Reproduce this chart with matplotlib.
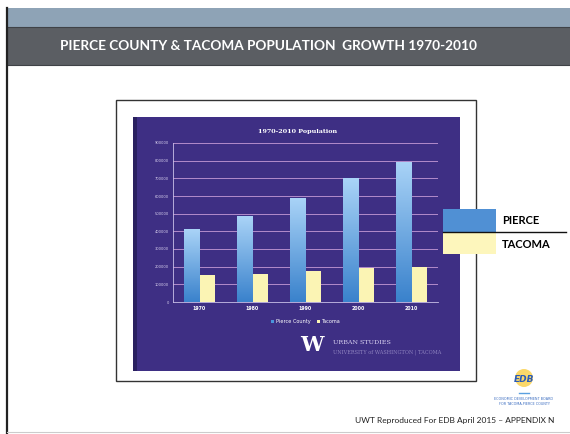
import numpy as np
import matplotlib
matplotlib.use('Agg')
from matplotlib import pyplot as plt
from matplotlib.patches import Rectangle, Circle

# データ
years = ['1970', '1980', '1990', '2000', '2010']
pierce = [411000, 486000, 586000, 701000, 795000]
tacoma = [154000, 158000, 177000, 194000, 198000]
yticks = [0, 100000, 200000, 300000, 400000, 500000, 600000, 700000, 800000, 900000]

W, H = 570, 434
fig = plt.figure(figsize=(W / 100, H / 100), dpi=100)
fig.patch.set_facecolor('white')

# スライド背景（ピクセル座標）
bg = fig.add_axes([0, 0, 1, 1])
bg.set_xlim(0, W)
bg.set_ylim(H, 0)
bg.axis('off')

bg.add_patch(Rectangle((7, 8), W - 7, 19, facecolor='#8ea3b6', edgecolor='none'))
bg.add_patch(Rectangle((7, 27), W - 7, 38, facecolor='#5b5e63', edgecolor='none'))
bg.plot([7, W], [27, 27], color='#3f4247', lw=0.8)
bg.plot([7, W], [65, 65], color='#3f4247', lw=0.8)
bg.plot([7, 7], [8, H], color='#222222', lw=1.6)
bg.plot([7, W], [432, 432], color='#cccccc', lw=0.8)
bg.text(269, 46, 'PIERCE COUNTY & TACOMA POPULATION  GROWTH 1970-2010',
        color='white', fontsize=9.8, fontweight='bold', family='Lato',
        ha='center', va='center')

# 枠とパネル
bg.add_patch(Rectangle((116, 100), 360, 281, facecolor='white', edgecolor='#333333', lw=1.0))
bg.add_patch(Rectangle((133, 117), 327, 254, facecolor='#3e2f84', edgecolor='none'))
bg.add_patch(Rectangle((133, 117), 4, 254, facecolor='#2a2060', edgecolor='none'))

bg.text(298, 132, '1970-2010 Population', color='white', fontsize=4.6, fontweight='bold',
        family='DejaVu Serif', ha='center', va='center')

# UWロゴ
bg.text(312, 345, 'W', color='white', fontsize=15, fontweight='bold', family='DejaVu Serif',
        ha='center', va='center')
bg.text(333, 342, 'URBAN STUDIES', color='#d8d0f0', fontsize=4.6, family='DejaVu Serif',
        ha='left', va='center')
bg.text(333, 352, 'UNIVERSITY of WASHINGTON | TACOMA', color='#8f84c0', fontsize=3.6,
        family='DejaVu Serif', ha='left', va='center')

# 右側の凡例
bg.add_patch(Rectangle((443, 209), 53, 23, facecolor='#5090d4', edgecolor='none', zorder=5))
bg.add_patch(Rectangle((443, 232), 53, 22, facecolor='#fdf6bc', edgecolor='none', zorder=5))
bg.plot([443, 566], [232, 232], color='#111111', lw=1.0, zorder=6)
bg.text(502, 221, 'PIERCE', fontsize=8, fontweight='bold', family='Lato', va='center', zorder=6)
bg.text(502, 244, 'TACOMA', fontsize=8, fontweight='bold', family='Lato', va='center', zorder=6)

# EDBロゴ
bg.add_patch(Circle((524, 378), 9, facecolor='#fbd86a', edgecolor='none'))
bg.text(524, 379, 'EDB', color='#2a5bb8', fontsize=6.5, fontweight='bold', style='italic',
        ha='center', va='center')
bg.plot([519, 529], [393, 393], color='#5aa0e0', lw=1)
bg.text(524, 399, 'ECONOMIC DEVELOPMENT BOARD', color='#3a6cc0', fontsize=2.4, ha='center', va='center')
bg.text(524, 404, 'FOR TACOMA-PIERCE COUNTY', color='#3a6cc0', fontsize=2.4, ha='center', va='center')

bg.text(554, 421, 'UWT Reproduced For EDB April 2015 \u2013 APPENDIX N', fontsize=6,
        family='Lato', ha='right', va='center', color='#222222')

# グラフ
ax = fig.add_axes([173 / W, 1 - 302 / H, 265 / W, 159 / H])
ax.set_facecolor('none')
x = np.arange(len(years))
w = 0.29
b1 = ax.bar(x - w / 2, pierce, w, color='#4a94dc', label='Pierce County', zorder=3)
b2 = ax.bar(x + w / 2, tacoma, w, color='#fbf4b4', label='Tacoma', zorder=3)

grad = np.linspace(0, 1, 100).reshape(-1, 1)
cmap = matplotlib.colors.LinearSegmentedColormap.from_list('pb', ['#3a82cc', '#a9d3f7'])
for r in b1:
    im = ax.imshow(grad, cmap=cmap, origin='lower', aspect='auto', zorder=4,
                   extent=[r.get_x(), r.get_x() + r.get_width(), 0, r.get_height()])
    im.set_clip_path(r)

ax.set_xlim(-0.5, 4.5)
ax.set_ylim(0, 900000)
ax.set_yticks(yticks)
ax.set_yticklabels([str(v) for v in yticks], fontsize=2.6, color='#d8d0ee')
ax.set_xticks(x)
ax.set_xticklabels(years, fontsize=3.4, color='white', fontweight='bold')
ax.tick_params(length=0, pad=3)
ax.grid(axis='y', color='#c49ad6', lw=0.6, zorder=1)
for s in ['top', 'right']:
    ax.spines[s].set_visible(False)
ax.spines['left'].set_color('#c9c0e8')
ax.spines['bottom'].set_color('#c9c0e8')
ax.spines['left'].set_linewidth(0.6)
ax.spines['bottom'].set_linewidth(0.6)

ax.legend(loc='upper center', bbox_to_anchor=(0.5, -0.08), ncol=2, frameon=False,
          fontsize=3.6, labelcolor='white', handlelength=0.6, handleheight=0.6,
          columnspacing=1.2, handletextpad=0.4)

plt.savefig('out.png', dpi=100)
